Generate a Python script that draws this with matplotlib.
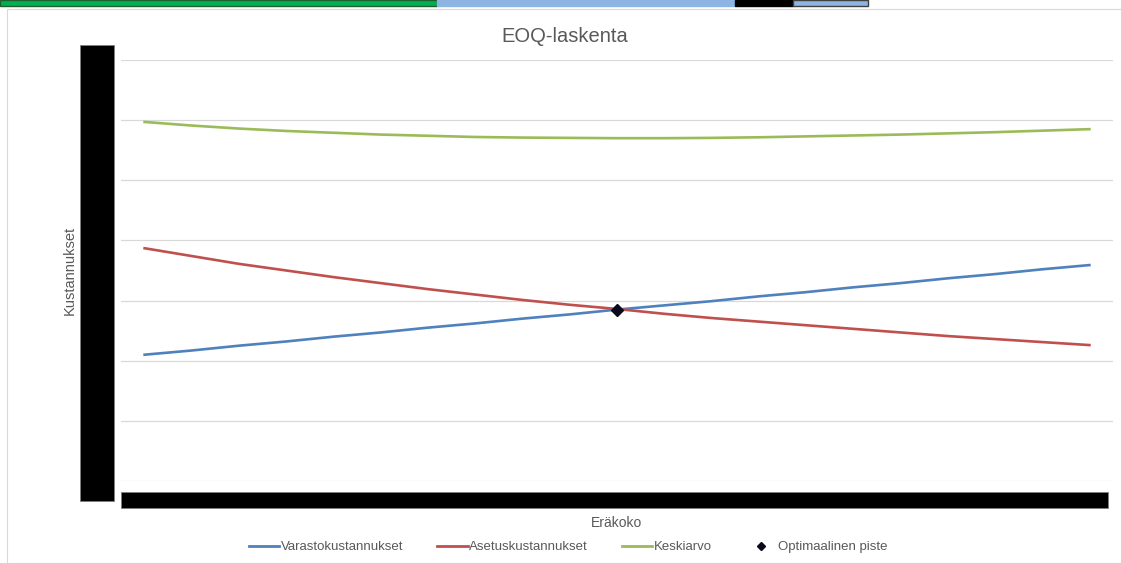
import matplotlib
matplotlib.use('Agg')
import matplotlib.pyplot as plt
from matplotlib.patches import Rectangle
from matplotlib.lines import Line2D
import numpy as np

# ── Data (y scale is hidden so 1 gridline = 1 unit) ─────────────────────────
batch_idx = list(range(21))
holding   = [2.10, 2.17, 2.25, 2.32, 2.40, 2.47, 2.55, 2.62, 2.70, 2.77, 2.85,
             2.92, 2.99, 3.07, 3.14, 3.22, 3.29, 3.37, 3.44, 3.52, 3.59]
setup     = [3.87, 3.74, 3.61, 3.50, 3.39, 3.29, 3.19, 3.10, 3.01, 2.93, 2.86,
             2.78, 2.71, 2.65, 2.59, 2.53, 2.47, 2.41, 2.36, 2.31, 2.26]
average   = [5.97, 5.91, 5.86, 5.82, 5.79, 5.76, 5.74, 5.72, 5.71, 5.705, 5.70,
             5.70, 5.705, 5.715, 5.73, 5.745, 5.76, 5.78, 5.80, 5.825, 5.85]
opt_idx   = [10]
opt_cost  = [2.85]

# ── Style ─────────────────────────────────────────────────────────────────────
BLUE  = "#4f81bd"
RED   = "#c0504d"
GREEN = "#9bbb59"
GRID  = "#d9d9d9"
TEXT  = "#595959"
FONT  = ["Liberation Sans Narrow", "Liberation Sans", "DejaVu Sans"]

plt.rcParams.update({"font.family": FONT})

W, H = 1121, 563
fig = plt.figure(figsize=(W / 100, H / 100), dpi=100, facecolor="white")

def fx(px):
    return px / W

def fy(py):
    return 1 - py / H

# chart area border + spreadsheet cells peeking in at the top
fig.patches.append(Rectangle((fx(7), fy(563)), fx(1130), fy(9) - fy(563),
                             transform=fig.transFigure, facecolor="none",
                             edgecolor=GRID, linewidth=0.8, zorder=0))
cells = [(0, 437, "#00b050", "#1f5f2f"), (437, 735, "#8db4e2", "#8db4e2"),
         (735, 793, "black", "black"), (793, 868, "#8db4e2", "#404040")]
for x0, x1, fc, ec in cells:
    fig.patches.append(Rectangle((fx(x0), fy(6)), fx(x1 - x0), fy(0) - fy(6),
                                 transform=fig.transFigure, facecolor=fc,
                                 edgecolor=ec, linewidth=1.0, zorder=1))

# ── Plot ──────────────────────────────────────────────────────────────────────
ax = fig.add_axes([fx(121), fy(481), fx(1113 - 121), fy(60) - fy(481)])
ax.set_facecolor("none")
ax.plot(batch_idx, holding, color=BLUE, linewidth=1.9, zorder=3)
ax.plot(batch_idx, setup, color=RED, linewidth=1.9, zorder=3)
ax.plot(batch_idx, average, color=GREEN, linewidth=1.9, zorder=3)
ax.plot(opt_idx, opt_cost, linestyle="none", marker="D", markersize=6,
        color="#0a0a1e", zorder=4)

ax.set_xlim(-0.5, len(batch_idx) - 0.5)
ax.set_ylim(0, 7)
ax.set_yticks(range(8))
ax.yaxis.grid(True, color=GRID, linewidth=0.9)
ax.xaxis.grid(False)
ax.set_axisbelow(True)
ax.tick_params(length=0, labelleft=False, labelbottom=False)
for spine in ax.spines.values():
    spine.set_visible(False)

# redacted tick labels
fig.patches.append(Rectangle((fx(80), fy(501)), fx(34), fy(45) - fy(501),
                             transform=fig.transFigure, facecolor="black",
                             edgecolor="#7f7f7f", linewidth=0.6, zorder=5))
fig.patches.append(Rectangle((fx(121), fy(508)), fx(987), fy(492) - fy(508),
                             transform=fig.transFigure, facecolor="black",
                             edgecolor="#7f7f7f", linewidth=0.6, zorder=5))

# ── Texts ─────────────────────────────────────────────────────────────────────
fig.text(fx(565), fy(37), "EOQ-laskenta", ha="center", va="center",
         fontsize=14.5, color=TEXT)
fig.text(fx(70), fy(270), "Kustannukset", ha="center", va="center",
         rotation=90, fontsize=10.5, color=TEXT)
fig.text(fx(617), fy(523), "Eräkoko", ha="center", va="center",
         fontsize=10, color=TEXT)

handles = [Line2D([], [], color=BLUE, linewidth=2),
           Line2D([], [], color=RED, linewidth=2),
           Line2D([], [], color=GREEN, linewidth=2),
           Line2D([], [], linestyle="none", marker="D", markersize=4.5,
                  color="#0a0a1e")]
labels = ["Varastokustannukset", "Asetuskustannukset", "Keskiarvo",
          "Optimaalinen piste"]
leg = fig.legend(handles, labels, loc="center", bbox_to_anchor=(fx(568), fy(547)),
                 ncol=4, frameon=False, fontsize=9.5, handlelength=2.3,
                 handletextpad=0.1, columnspacing=2.6)
for t in leg.get_texts():
    t.set_color(TEXT)

plt.savefig("out.png", dpi=100, facecolor="white")
